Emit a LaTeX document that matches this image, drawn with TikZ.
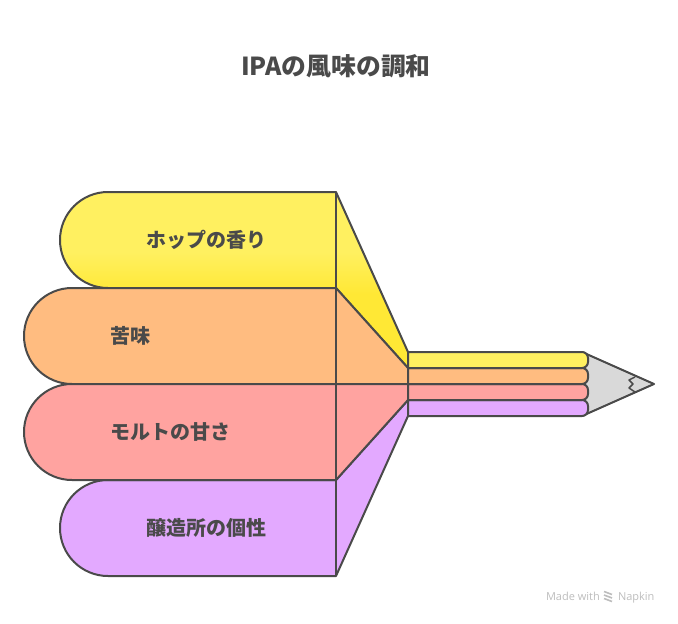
\documentclass[tikz,border=0pt]{standalone}
\usepackage{fontspec}
\setmainfont{Noto Sans CJK JP}
\newfontfamily\footfont{Open Sans}
\usetikzlibrary{shadings}

\definecolor{inkgray}{HTML}{4A4A4A}
\definecolor{hopyellow}{HTML}{FFF060}
\definecolor{hopdeep}{HTML}{FFE835}
\definecolor{bitterorange}{HTML}{FFBC80}
\definecolor{maltred}{HTML}{FFA3A0}
\definecolor{brewpurple}{HTML}{E3A9FF}
\definecolor{tipgray}{HTML}{D9D9D9}
\definecolor{footgray}{HTML}{BDBDBD}

\pgfdeclareverticalshading{hopfade}{100bp}{color(0bp)=(hopdeep); color(46bp)=(hopdeep); color(58bp)=(hopyellow); color(100bp)=(hopyellow)}

\begin{document}
\begin{tikzpicture}[x=1pt,y=-1pt,line width=2pt,line join=round,
  flavor part/.style={draw=inkgray},
  flavor label/.style={font=\bfseries\fontsize{20}{24}\selectfont,text=inkgray,inner sep=0pt},
  foot label/.style={font=\footfont\fontsize{11}{13}\selectfont,text=footgray,inner sep=0pt}]

  \useasboundingbox (0,0) rectangle (678,624);

  % flavour bands
  \path[flavor part,shading=hopfade] (336,192) -- (108,192) arc (90:270:48 and -48) -- (336,288)
    -- (408,368) -- (408,352) -- cycle;
  \path[flavor part,fill=bitterorange] (336,288) -- (72,288) arc (90:270:48 and -48) -- (408,384)
    -- (408,368) -- cycle;
  \path[flavor part,fill=brewpurple] (336,480) -- (108,480) arc (90:270:48 and -48) -- (336,576)
    -- (408,416) -- (408,400) -- cycle;
  \path[flavor part,fill=maltred] (336,384) -- (72,384) arc (90:270:48 and -48) -- (336,480)
    -- (408,400) -- (408,384) -- cycle;
  \draw[inkgray] (336,192) -- (336,576);

  % pencil tip
  \path[flavor part,fill=tipgray] (582,352) -- (654,384) -- (582,416) -- cycle;
  \draw[inkgray,line width=1.5pt] (635,377) -- (629,380) -- (633,384) -- (629,388) -- (635,392);

  % pencil bars
  \foreach \bary/\barcolor in {400/brewpurple,384/maltred,368/bitterorange,352/hopyellow}
    \path[flavor part,fill=\barcolor] (408,\bary) [rounded corners=6pt] -- (588,\bary) -- (588,\bary+16)
      [sharp corners] -- (408,\bary+16) -- cycle;

  \node[flavor label,font=\bfseries\fontsize{24.8}{28}\selectfont] (title) at (336,66.5) {IPAの風味の調和};
  \node[flavor label] (hop) at (206,240) {ホップの香り};
  \node[flavor label] (bitter) at (130,336) {苦味};
  \node[flavor label] (malt) at (170,432) {モルトの甘さ};
  \node[flavor label] (brewery) at (206,528) {醸造所の個性};

  % footer
  \node[foot label,anchor=base west] (made) at (545,600) {Made with};
  \node[foot label,anchor=base west] (napkin) at (617,600) {Napkin};
  \foreach \logoy in {591.5,595,598.5}
    \draw[footgray,line width=1.6pt] (604,\logoy) -- (612,\logoy+3);

\end{tikzpicture}
\end{document}
